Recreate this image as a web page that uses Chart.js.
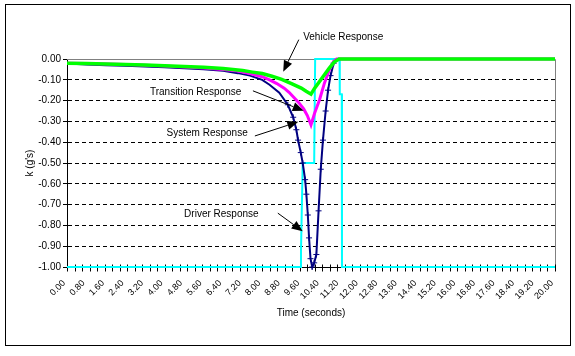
<!DOCTYPE html>
<html><head><meta charset="utf-8">
<script src="https://cdn.jsdelivr.net/npm/chart.js@4"></script>
<style>html,body{margin:0;padding:0;background:#fff;}canvas{display:block;}</style>
</head><body>
<canvas id="c" width="575" height="356"></canvas>
<script>
// ---- data ----
const xTickLabels = ['0.00','0.80','1.60','2.40','3.20','4.00','4.80','5.60','6.40','7.20','8.00','8.80','9.60','10.40','11.20','12.00','12.80','13.60','14.40','15.20','16.00','16.80','17.60','18.40','19.20','20.00'];
const yTickLabels = ['0.00','-0.10','-0.20','-0.30','-0.40','-0.50','-0.60','-0.70','-0.80','-0.90','-1.00'];

const vehicleTime   = [0, 0.8, 1.6, 2.4, 3.2, 4.0, 4.8, 5.6, 6.4, 6.8, 7.2, 7.6, 8.0, 8.4, 8.8, 9.2, 9.6, 9.8, 10.0, 10.15, 10.35, 10.55, 10.75, 10.95, 11.15, 12, 14, 16, 18, 20];
const vehicleValues = [-0.020, -0.022, -0.024, -0.026, -0.029, -0.032, -0.036, -0.040, -0.046, -0.050, -0.055, -0.063, -0.070, -0.083, -0.098, -0.118, -0.140, -0.155, -0.169, -0.140, -0.108, -0.076, -0.044, -0.015, 0, 0, 0, 0, 0, 0];

const transitionTime   = [0, 0.8, 1.6, 2.4, 3.2, 4.0, 4.8, 5.6, 6.4, 7.0, 7.5, 8.0, 8.3, 8.6, 8.9, 9.1, 9.3, 9.5, 9.7, 9.85, 10.0, 10.15, 10.35, 10.55, 10.75, 10.93, 11.05, 12, 20];
const transitionValues = [-0.020, -0.022, -0.024, -0.027, -0.030, -0.034, -0.038, -0.043, -0.050, -0.058, -0.070, -0.085, -0.100, -0.118, -0.140, -0.160, -0.185, -0.210, -0.240, -0.272, -0.317, -0.260, -0.196, -0.116, -0.052, -0.011, 0, 0, 0];

const systemTime   = [0, 0.8, 1.6, 2.4, 3.2, 4.0, 4.8, 5.6, 6.4, 7.0, 7.5, 8.0, 8.3, 8.7, 9.05, 9.27, 9.40, 9.47, 9.58, 9.66, 9.76, 9.81, 9.87, 9.92, 9.98, 10.05, 10.13, 10.22, 10.31, 10.40, 10.49, 10.60, 10.70, 10.80, 10.93, 11.04, 12, 20];
const systemValues = [-0.022, -0.026, -0.030, -0.033, -0.036, -0.040, -0.044, -0.049, -0.057, -0.068, -0.080, -0.100, -0.124, -0.162, -0.220, -0.280, -0.340, -0.390, -0.450, -0.500, -0.580, -0.650, -0.750, -0.860, -0.960, -1.000, -0.980, -0.940, -0.730, -0.530, -0.390, -0.250, -0.150, -0.080, -0.020, 0, 0, 0];

const driverTime   = [0, 9.57, 9.59, 9.66, 10.13, 10.17, 11.17, 11.18, 11.26, 11.27, 20];
const driverValues = [-1, -1, -0.92, -0.50, -0.50, 0, 0, -0.17, -0.17, -1, -1];

const seriesNames = ['Vehicle Response', 'Transition Response', 'System Response', 'Driver Response'];

// ---- annotations (text + arrow, in data units) ----
const notes = [
  {text: seriesNames[0], tx: 9.68, ty: 0.106, from: [9.50, 0.093], to: [8.86, -0.061]},
  {text: seriesNames[1], tx: 3.40, ty: -0.159, from: [7.62, -0.153], to: [9.70, -0.249]},
  {text: seriesNames[2], tx: 4.08, ty: -0.359, from: [7.70, -0.370], to: [9.48, -0.302]},
  {text: seriesNames[3], tx: 4.80, ty: -0.747, from: [8.64, -0.741], to: [9.66, -0.828]}
];

const FONT = 'Liberation Sans, Arial, sans-serif';
const pts = (t, v) => t.map((x, i) => ({x: x, y: v[i]}));

const framePlugin = {
  id: 'frame',
  beforeDatasetsDraw(chart) {
    const {ctx, chartArea: a} = chart;
    ctx.save();
    ctx.strokeStyle = '#808080';
    ctx.lineWidth = 1;
    ctx.beginPath();
    ctx.moveTo(a.left, Math.round(a.top) + 0.5);
    ctx.lineTo(Math.round(a.right) + 0.5, Math.round(a.top) + 0.5);
    ctx.lineTo(Math.round(a.right) + 0.5, Math.round(a.bottom));
    ctx.stroke();
    // minor tick marks on the time axis (crossing the axis)
    const xs = chart.scales.x;
    const yb = Math.round(a.bottom) + 0.5;
    ctx.strokeStyle = '#000';
    ctx.beginPath();
    for (let i = 0; i <= 65; i++) {
      const px = Math.round(xs.getPixelForValue(i * 20 / 65)) + 0.5;
      ctx.moveTo(px, yb - 3);
      ctx.lineTo(px, yb + 4);
    }
    ctx.stroke();
    ctx.restore();
  },
  afterDraw(chart) {
    const {ctx} = chart;
    const xs = chart.scales.x, ys = chart.scales.y;
    ctx.save();
    ctx.fillStyle = '#000';
    ctx.strokeStyle = '#000';
    ctx.font = '10px ' + FONT;
    ctx.textBaseline = 'middle';
    ctx.textAlign = 'left';
    notes.forEach(n => {
      ctx.fillText(n.text, xs.getPixelForValue(n.tx), ys.getPixelForValue(n.ty));
      const x1 = xs.getPixelForValue(n.from[0]), y1 = ys.getPixelForValue(n.from[1]);
      const x2 = xs.getPixelForValue(n.to[0]), y2 = ys.getPixelForValue(n.to[1]);
      const ang = Math.atan2(y2 - y1, x2 - x1);
      const L = 11, W = 4.5;
      const bx = x2 - L * Math.cos(ang), by = y2 - L * Math.sin(ang);
      ctx.lineWidth = 1;
      ctx.beginPath(); ctx.moveTo(x1, y1); ctx.lineTo(bx, by); ctx.stroke();
      ctx.beginPath();
      ctx.moveTo(x2, y2);
      ctx.lineTo(bx + W * Math.sin(ang), by - W * Math.cos(ang));
      ctx.lineTo(bx - W * Math.sin(ang), by + W * Math.cos(ang));
      ctx.closePath(); ctx.fill();
    });
    ctx.lineWidth = 1;
    ctx.strokeRect(5.5, 4.5, 565, 341);
    ctx.restore();
  }
};

new Chart(document.getElementById('c'), {
  type: 'line',
  data: {
    datasets: [
      {label: seriesNames[0], data: pts(vehicleTime, vehicleValues), borderColor: '#00FF00', backgroundColor: '#00FF00', borderWidth: 3.5, pointRadius: 0, clip: false},
      {label: seriesNames[1], data: pts(transitionTime, transitionValues), borderColor: '#FF00FF', backgroundColor: '#FF00FF', borderWidth: 3, pointRadius: 0, clip: false},
      {label: seriesNames[2], data: pts(systemTime, systemValues), borderColor: '#000080', backgroundColor: '#000080', borderWidth: 2,
        pointStyle: 'cross', pointBorderWidth: 1, pointBorderColor: '#000080',
        pointRadius: c => (c.raw && c.raw.x > 8.9 && c.raw.x < 11) ? 3 : 0, clip: false},
      {label: seriesNames[3], data: pts(driverTime, driverValues), borderColor: '#00FFFF', backgroundColor: '#00FFFF', borderWidth: 2, pointRadius: 0, clip: false}
    ]
  },
  options: {
    responsive: false,
    animation: false,
    devicePixelRatio: 1,
    layout: {padding: {top: 59, right: 20, left: 0, bottom: 0}},
    plugins: {legend: {display: false}, tooltip: {enabled: false}},
    elements: {line: {tension: 0}},
    scales: {
      x: {
        type: 'linear', min: 0, max: 20,
        afterBuildTicks: s => { s.ticks = xTickLabels.map(l => ({value: parseFloat(l)})); },
        afterFit: s => { s.height = 356 - 267; },
        ticks: {autoSkip: false, maxRotation: 45, minRotation: 45, padding: 6, labelOffset: -3, color: '#000',
          font: {family: FONT, size: 9}, callback: (v, i) => xTickLabels[i]},
        grid: {drawOnChartArea: false, drawTicks: true, tickLength: 5, tickColor: 'rgba(0,0,0,0)'},
        border: {color: '#000', width: 1},
        title: {display: true, text: 'Time (seconds)', color: '#000', font: {family: FONT, size: 10}, padding: {top: 0, bottom: 37}}
      },
      y: {
        type: 'linear', min: -1, max: 0,
        afterBuildTicks: s => { s.ticks = yTickLabels.map(l => ({value: parseFloat(l)})); },
        afterFit: s => { s.width = 67; },
        ticks: {padding: 2, color: '#000', font: {family: FONT, size: 10}, callback: (v, i) => yTickLabels[i]},
        grid: {color: c => (c.tick && (c.tick.value === 0 || c.tick.value === -1)) ? 'rgba(0,0,0,0)' : '#000',
          tickColor: '#000', tickLength: 4, lineWidth: 1},
        border: {color: '#000', width: 1, dash: [4, 3]},
        title: {display: true, text: "k (g's)", color: '#000', font: {family: FONT, size: 10}, padding: {top: 24, bottom: 0}}
      }
    }
  },
  plugins: [framePlugin]
});
</script>
</body></html>
